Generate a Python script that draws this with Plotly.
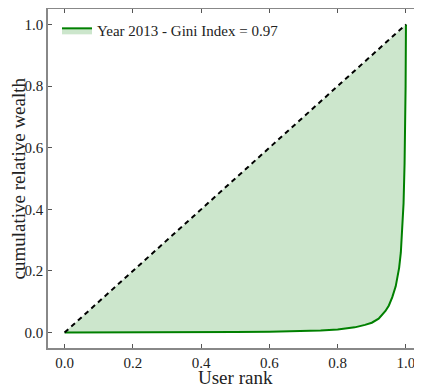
import plotly.graph_objects as go

# Lorenz curve
user_rank = [0.0, 0.1, 0.2, 0.3, 0.4, 0.5, 0.6, 0.65, 0.7, 0.75, 0.8, 0.85, 0.88, 0.9,
             0.92, 0.94, 0.95, 0.96, 0.97, 0.975, 0.98, 0.985, 0.99, 0.993, 0.996,
             0.998, 0.999, 1.0]
cum_wealth = [0.0, 0.0, 0.0005, 0.001, 0.0015, 0.002, 0.003, 0.004, 0.005, 0.007, 0.010,
              0.017, 0.025, 0.032, 0.045, 0.070, 0.088, 0.115, 0.15, 0.18, 0.21, 0.26,
              0.34, 0.42, 0.55, 0.68, 0.80, 1.0]
equality_x = [0.0, 1.0]
equality_y = [0.0, 1.0]
legend_label = "Year 2013 - Gini Index = 0.97"
x_title = "User rank"
y_title = "cumulative relative wealth"
tick_vals = [0.0, 0.2, 0.4, 0.6, 0.8, 1.0]
tick_text = ["0.0", "0.2", "0.4", "0.6", "0.8", "1.0"]

FONT = "Times New Roman, Liberation Serif, serif"
GREEN = "#008000"

fig = go.Figure()
# equality line (base for fill)
fig.add_trace(go.Scatter(x=equality_x, y=equality_y, mode="lines",
                         line=dict(width=0, color="rgba(0,0,0,0)"),
                         showlegend=False, hoverinfo="skip"))
# Lorenz curve filled to equality line
fig.add_trace(go.Scatter(x=user_rank, y=cum_wealth, mode="lines",
                         line=dict(color=GREEN, width=2),
                         fill="tonexty", fillcolor="rgba(0,128,0,0.2)",
                         name=legend_label))
# dashed equality line on top
fig.add_trace(go.Scatter(x=equality_x, y=equality_y, mode="lines",
                         line=dict(color="black", width=2, dash="5px,4px"),
                         showlegend=False))

axis_common = dict(
    showline=True, linecolor="#888888", linewidth=1.5, mirror="ticks",
    ticks="inside", ticklen=4, tickcolor="#555555", tickwidth=1,
    showgrid=False, zeroline=False, automargin=False,
    tickvals=tick_vals, ticktext=tick_text,
    tickfont=dict(family=FONT, size=15, color="#222222"),
)

# the page body has an 8px default margin, so the figure starts at (8, 8)
fig.update_layout(
    width=414, height=379,
    margin=dict(l=40, r=0, t=1, b=39),
    paper_bgcolor="white", plot_bgcolor="white",
    font=dict(family=FONT, color="#222222"),
    xaxis=dict(range=[-0.0486, 1.047], **axis_common),
    yaxis=dict(range=[-0.05, 1.05], **axis_common),
    legend=dict(x=0.024, y=0.985, xanchor="left", yanchor="top",
                bgcolor="rgba(255,255,255,0)", itemwidth=30,
                font=dict(family=FONT, size=15, color="#222222")),
    annotations=[
        dict(text=x_title, xref="paper", yref="paper", x=0.5, y=0,
             xanchor="center", yanchor="top", yshift=-17, showarrow=False,
             font=dict(family=FONT, size=19, color="#222222")),
        dict(text=y_title, xref="paper", yref="paper", x=0, y=0.5,
             xanchor="center", yanchor="middle", xshift=-30, textangle=-90,
             showarrow=False, font=dict(family=FONT, size=19, color="#222222")),
    ],
)

fig.write_html("out.html")
